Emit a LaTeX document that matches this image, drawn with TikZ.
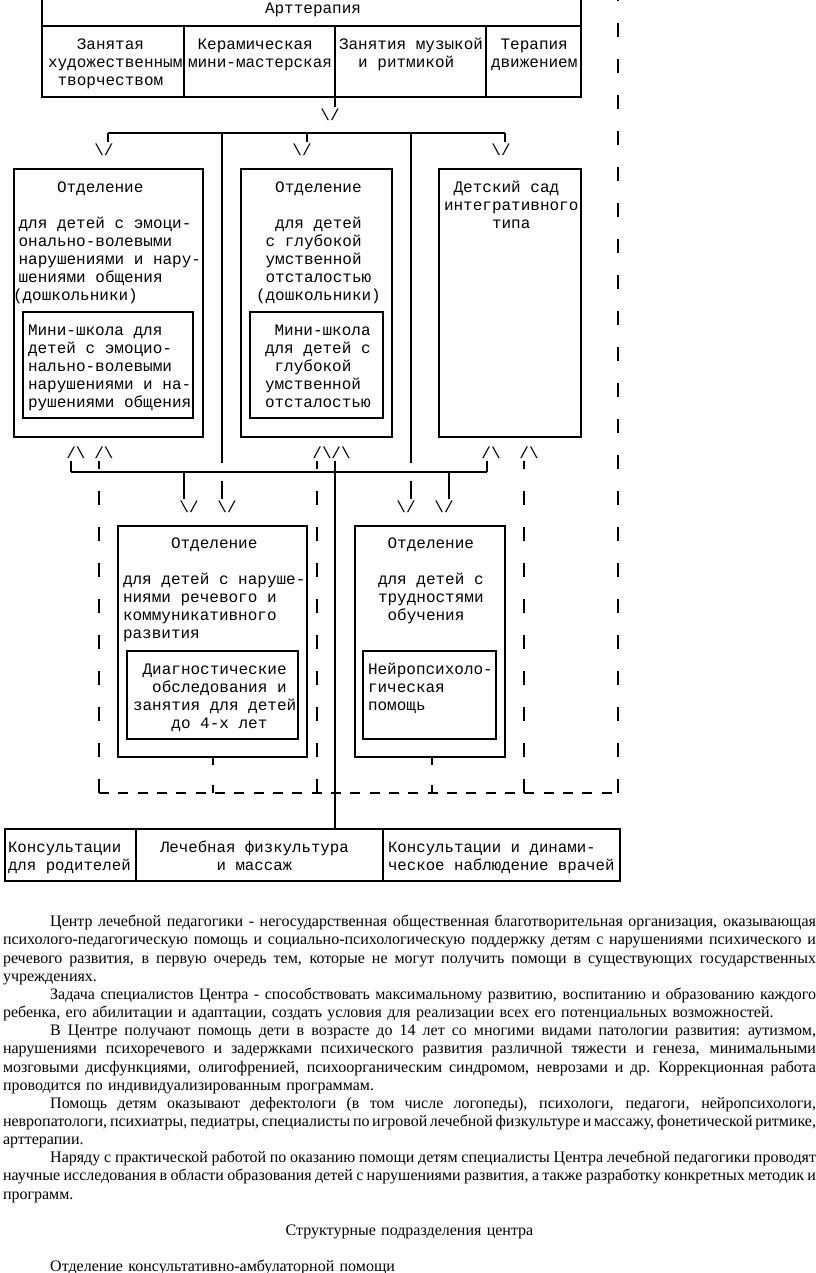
\documentclass[tikz,border=0pt]{standalone}
\usepackage{fontspec}
\setmainfont{Liberation Serif}
\newfontfamily\asciifont{Liberation Mono}
\usetikzlibrary{fit}

\newcommand{\fullline}[1]{\hbox to\linewidth{\spaceskip=3pt plus 6pt minus 2.4pt\strut#1}}
\newcommand{\shortline}[1]{\hbox to\linewidth{\strut#1\hfil}}
\newcommand{\midline}[1]{\hbox to\linewidth{\hfil\strut#1\hfil}}
\newcommand{\firstindent}{\hskip35.4pt}

\begin{document}
\begin{tikzpicture}[
    x=0.75pt,
    y=-0.75pt,
    every node/.style={inner sep=0pt, outer sep=0pt},
    box/.style={draw, line width=1pt, inner sep=0pt, outer sep=0pt},
    wire/.style={line width=1pt},
    dashwire/.style={line width=1pt, dash pattern=on 10.5pt off 16.5pt},
    dashrow/.style={line width=1pt, dash pattern=on 7.5pt off 7pt},
    stub/.style={line width=1pt, dash pattern=on 6pt off 15pt},
    mono/.style={font=\asciifont\fontsize{12pt}{13.5pt}\selectfont, align=left, anchor=north west},
    monosmall/.style={font=\asciifont\fontsize{11.8pt}{13.5pt}\selectfont, align=left, anchor=north west},
    tipmark/.style={font=\asciifont\fontsize{12pt}{13.5pt}\selectfont},
    body/.style={font=\fontsize{12pt}{13.62pt}\selectfont, text width=609.75pt, anchor=north west}
  ]
  \useasboundingbox (0,0) rectangle (816,1273);
  \clip (0,0) rectangle (816,1273);

  % art therapy block
  \node[box, fit={(42,-10) (581,26)}] (artHead) {};
  \node[box, fit={(42,26) (184,97)}] (art1) {};
  \node[box, fit={(184,26) (335,97)}] (art2) {};
  \node[box, fit={(335,26) (486,97)}] (art3) {};
  \node[box, fit={(486,26) (581,97)}] (art4) {};
  \node[mono] (tArtHead) at (265,1) {\strut Арттерапия};
  \node[mono] (tArt1) at (48,37) {\strut~~~Занятая\\художественным\\~творчеством};
  \node[mono] (tArt2) at (188,37) {\strut~Керамическая\\мини-мастерская};
  \node[mono] (tArt3) at (339,37) {\strut Занятия музыкой\\~~и ритмикой};
  \node[mono] (tArt4) at (491,37) {\strut~Терапия\\движением};

  % upper departments
  \node[box, fit={(14,169) (203,437)}] (depEmo) {};
  \node[box, fit={(23,312) (193,418)}] (schEmo) {};
  \node[mono] (tDepEmo) at (9,180) {\strut~~~~~Отделение\\~\\~для детей с эмоци-\\~онально-волевыми\\~нарушениями и нару-\\~шениями общения\\\hspace{3pt}(дошкольники)};
  \node[mono] (tSchEmo) at (28,323) {\strut Мини-школа для\\детей с эмоцио-\\нально-волевыми\\нарушениями и на-\\рушениями общения};

  \node[box, fit={(241,169) (392,437)}] (depDeep) {};
  \node[box, fit={(250,312) (383,418)}] (schDeep) {};
  \node[mono] (tDepDeep) at (256,180) {\strut~~Отделение\\~\\~~для детей\\~с глубокой\\~умственной\\~отсталостью\\(дошкольники)};
  \node[mono] (tSchDeep) at (265,323) {\strut~Мини-школа\\для детей с\\~глубокой\\умственной\\отсталостью};

  \node[box, fit={(439,169) (581,437)}] (kinder) {};
  \node[mono] (tKinder) at (444,180) {\strut~Детский сад\\интегративного\\~~~~~типа};

  % lower departments
  \node[box, fit={(118,526) (307,757)}] (depSpeech) {};
  \node[box, fit={(127,651) (298,739)}] (diagBox) {};
  \node[mono] (tDepSpeech) at (123,536) {\strut~~~~~Отделение\\~\\для детей с наруше-\\ниями речевого и\\коммуникативного\\развития};
  \node[mono] (tDiagBox) at (133,662) {\strut~Диагностические\\~~обследования и\\занятия для детей\\~~~~до 4-х лет};

  \node[box, fit={(355,526) (505,757)}] (depLearn) {};
  \node[box, fit={(363,651) (496,739)}] (neuroBox) {};
  \node[mono] (tDepLearn) at (378,536) {\strut~Отделение\\~\\для детей с\\трудностями\\~обучения};
  \node[mono] (tNeuroBox) at (368,662) {\strut Нейропсихоло-\\гическая\\помощь};

  % consultation row
  \node[box, fit={(5,829) (136,881)}] (cons1) {};
  \node[box, fit={(136,829) (383,881)}] (cons2) {};
  \node[box, fit={(383,829) (620,881)}] (cons3) {};
  \node[monosmall] (tCons1) at (8,840) {\strut Консультации\\для родителей};
  \node[monosmall] (tCons2) at (160,840) {\strut Лечебная физкультура\\~~~~~~и массаж};
  \node[monosmall] (tCons3) at (388,840) {\strut Консультации и динами-\\ческое наблюдение врачей};

  % arrow marks
  \node[tipmark] (gTop) at (330,115) {\textbackslash/};
  \node[tipmark] (gEmo) at (104,150) {\textbackslash/};
  \node[tipmark] (gDeep) at (302,150) {\textbackslash/};
  \node[tipmark] (gKinder) at (501,150) {\textbackslash/};
  \node[tipmark] (uEmoA) at (76,453) {/\textbackslash};
  \node[tipmark] (uEmoB) at (104,453) {/\textbackslash};
  \node[tipmark] (uDeepA) at (322,453) {/\textbackslash};
  \node[tipmark] (uDeepB) at (341,453) {/\textbackslash};
  \node[tipmark] (uKinderA) at (491,453) {/\textbackslash};
  \node[tipmark] (uKinderB) at (529,453) {/\textbackslash};
  \node[tipmark] (dSpeechA) at (189,507) {\textbackslash/};
  \node[tipmark] (dSpeechB) at (227,507) {\textbackslash/};
  \node[tipmark] (dLearnA) at (406,507) {\textbackslash/};
  \node[tipmark] (dLearnB) at (444,507) {\textbackslash/};

  % distribution from art therapy
  \coordinate (h1w) at (108,133);
  \coordinate (h1m) at (307,133);
  \coordinate (h1e) at (505,133);
  \coordinate (longA) at (222,133);
  \coordinate (longB) at (411,133);
  \draw[wire, shorten >=1.5pt] (art2.south east) -- (art2.south east |- gTop.north);
  \draw[wire] (h1w) -- (h1e);
  \draw[wire, shorten >=1.5pt] (h1w) -- (h1w |- gEmo.north);
  \draw[wire, shorten >=1.5pt] (h1m) -- (h1m |- gDeep.north);
  \draw[wire, shorten >=1.5pt] (h1e) -- (h1e |- gKinder.north);
  \draw[wire] (longA) -- (222,463) (222,481) -- ([yshift=1.5pt]longA |- dSpeechB.north);
  \draw[wire] (longB) -- (411,463) (411,481) -- ([yshift=1.5pt]longB |- dLearnA.north);

  % distribution to lower departments
  \coordinate (h2w) at (71,472);
  \coordinate (h2a) at (184,472);
  \coordinate (h2b) at (449,472);
  \coordinate (h2e) at (487,472);
  \draw[wire] (h2w) -- (h2e);
  \draw[wire, shorten >=1.5pt] (h2w) -- (h2w |- uEmoA.south);
  \draw[wire, shorten >=1.5pt] (h2e) -- (h2e |- uKinderA.south);
  \draw[wire, shorten >=1.5pt] (h2a) -- (h2a |- dSpeechA.north);
  \draw[wire, shorten >=1.5pt] (h2b) -- (h2b |- dLearnB.north);

  % consultation trunk
  \coordinate (trunk) at (335,472);
  \draw[wire, shorten <=1.5pt] (trunk |- uDeepB.south) -- (trunk |- cons2.north);

  % dashed frame
  \coordinate (fSW) at (99,793);
  \coordinate (fSE) at (618,793);
  \coordinate (fDeep) at (317,793);
  \coordinate (fKinder) at (524,793);
  \coordinate (fSpeech) at (213,793);
  \coordinate (fLearn) at (432,793);
  \draw[dashrow] (fSW) -- (fSE);
  \draw[dashwire] (fSE) -- (618,-10);
  \draw[dashwire, shorten >=1.5pt] (fSW) -- (fSW |- uEmoB.south);
  \draw[dashwire, shorten >=1.5pt] (fDeep) -- (fDeep |- uDeepA.south);
  \draw[dashwire, shorten >=1.5pt] (fKinder) -- (fKinder |- uKinderB.south);
  \draw[stub] (fSpeech |- depSpeech.south) -- (fSpeech);
  \draw[stub] (fLearn |- depLearn.south) -- (fLearn);

  % text below the chart
  \node[body] (bodyText) at (3,914) {%
    \fullline{\firstindent Центр лечебной педагогики - негосударственная общественная благотворительная организация, оказывающая}
    \fullline{психолого-педагогическую помощь и социально-психологическую поддержку детям с нарушениями психического и}
    \fullline{речевого развития, в первую очередь тем, которые не могут получить помощи в существующих государственных}
    \shortline{учреждениях.}
    \fullline{\firstindent Задача специалистов Центра - способствовать максимальному развитию, воспитанию и образованию каждого}
    \shortline{ребенка, его абилитации и адаптации, создать условия для реализации всех его потенциальных возможностей.}
    \fullline{\firstindent В Центре получают помощь дети в возрасте до 14 лет со многими видами патологии развития: аутизмом,}
    \fullline{нарушениями психоречевого и задержками психического развития различной тяжести и генеза, минимальными}
    \fullline{мозговыми дисфункциями, олигофренией, психоорганическим синдромом, неврозами и др. Коррекционная работа}
    \shortline{проводится по индивидуализированным программам.}
    \fullline{\firstindent Помощь детям оказывают дефектологи (в том числе логопеды), психологи, педагоги, нейропсихологи,}
    \fullline{невропатологи, психиатры, педиатры, специалисты по игровой лечебной физкультуре и массажу, фонетической ритмике,}
    \shortline{арттерапии.}
    \fullline{\firstindent Наряду с практической работой по оказанию помощи детям специалисты Центра лечебной педагогики проводят}
    \fullline{научные исследования в области образования детей с нарушениями развития, а также разработку конкретных методик и}
    \shortline{программ.}
    \shortline{}
    \midline{Структурные подразделения центра}
    \shortline{}
    \shortline{\firstindent Отделение консультативно-амбулаторной помощи}};
\end{tikzpicture}
\end{document}
